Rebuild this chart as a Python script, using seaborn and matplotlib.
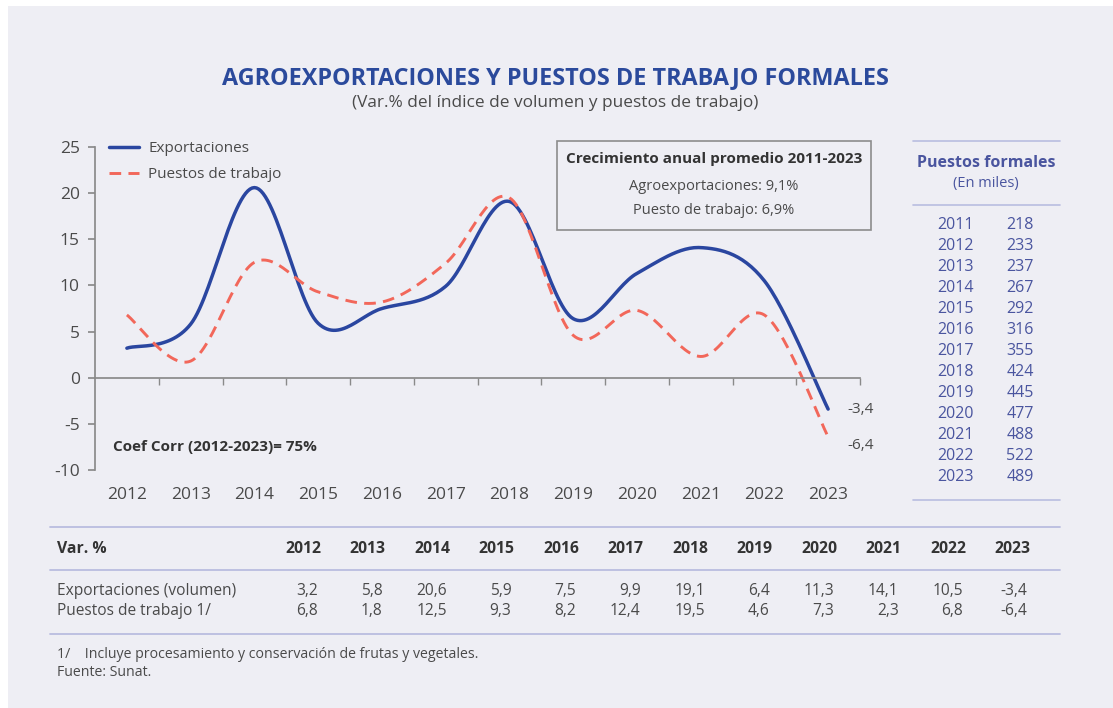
import numpy as np
import pandas as pd
import matplotlib
matplotlib.use("Agg")
import matplotlib.pyplot as plt
from matplotlib.patches import Rectangle
from matplotlib.lines import Line2D
import seaborn as sns

# data
years = ["2012", "2013", "2014", "2015", "2016", "2017", "2018", "2019", "2020", "2021", "2022", "2023"]
exportaciones = [3.2, 5.8, 20.6, 5.9, 7.5, 9.9, 19.1, 6.4, 11.3, 14.1, 10.5, -3.4]
puestos_trabajo = [6.8, 1.8, 12.5, 9.3, 8.2, 12.4, 19.5, 4.6, 7.3, 2.3, 6.8, -6.4]
exp_labels = ["3,2", "5,8", "20,6", "5,9", "7,5", "9,9", "19,1", "6,4", "11,3", "14,1", "10,5", "-3,4"]
pue_labels = ["6,8", "1,8", "12,5", "9,3", "8,2", "12,4", "19,5", "4,6", "7,3", "2,3", "6,8", "-6,4"]
yticks = [-10, -5, 0, 5, 10, 15, 20, 25]

formal_years = ["2011", "2012", "2013", "2014", "2015", "2016", "2017", "2018", "2019", "2020", "2021", "2022", "2023"]
formal_miles = [218, 233, 237, 267, 292, 316, 355, 424, 445, 477, 488, 522, 489]

BLUE = "#2b4a9c"
LINE_BLUE = "#2a46a0"
RED = "#f2675a"
GREY = "#4a4a4a"
SEP = "#b9bde0"
BG = "#eeeef4"
PANEL_BLUE = "#4a559f"


def smooth(y, n=30):
    # Excel-like smoothed line (Catmull-Rom through the data points)
    y = np.asarray(y, float)
    x = np.arange(len(y), dtype=float)
    px = np.concatenate([[x[0]], x, [x[-1]]])
    py = np.concatenate([[y[0]], y, [y[-1]]])
    xs, ys = [], []
    t = np.linspace(0, 1, n)
    for i in range(1, len(px) - 2):
        for p, out in ((px, xs), (py, ys)):
            p0, p1, p2, p3 = p[i - 1], p[i], p[i + 1], p[i + 2]
            c1 = p1 + (p2 - p0) / 6
            c2 = p2 - (p3 - p1) / 6
            seg = ((1 - t) ** 3 * p1 + 3 * (1 - t) ** 2 * t * c1
                   + 3 * (1 - t) * t ** 2 * c2 + t ** 3 * p2)
            out.extend(seg if i == 1 else seg[1:])
    return pd.DataFrame({"x": xs, "y": ys})


sns.set_theme(style="white")
plt.rcParams["font.family"] = ["Open Sans", "DejaVu Sans"]
plt.rcParams["axes.unicode_minus"] = False

fig = plt.figure(figsize=(11.13, 7.08), dpi=100)
fig.patch.set_facecolor("white")
fig.patches.append(Rectangle((8 / 1113, 0), 1, 1 - 6 / 708, transform=fig.transFigure,
                             facecolor=BG, edgecolor="none", zorder=-5))

fig.text(0.499, 1 - 78 / 708, "AGROEXPORTACIONES Y PUESTOS DE TRABAJO FORMALES", ha="center", va="center",
         fontsize=16.8, fontweight="bold", color=BLUE)
fig.text(0.499, 1 - 103 / 708, "(Var.% del índice de volumen y puestos de trabajo)", ha="center", va="center",
         fontsize=12.4, color=GREY)

ax = fig.add_axes([95 / 1113, 1 - 470 / 708, 765 / 1113, 323 / 708])
ax.set_facecolor("none")
ax.set_zorder(2)

sns.lineplot(data=smooth(exportaciones), x="x", y="y", ax=ax, sort=False,
             color=LINE_BLUE, linewidth=2.5)
sns.lineplot(data=smooth(puestos_trabajo), x="x", y="y", ax=ax, sort=False,
             color=RED, linewidth=2.1, linestyle=(0, (4, 2.5)))

ax.set_xlim(-0.5, len(years) - 0.5)
ax.set_ylim(-10, 25)
ax.set_yticks(yticks)
ax.set_xlabel("")
ax.set_ylabel("")
for s in ["top", "right"]:
    ax.spines[s].set_visible(False)
ax.spines["left"].set_color("#8a8a8a")
ax.spines["bottom"].set_color("#8a8a8a")
ax.spines["bottom"].set_position(("data", 0))
ax.tick_params(axis="y", length=5, color="#8a8a8a", labelsize=12.5, labelcolor=GREY, left=True, pad=6)
ax.set_xticks(range(len(years)))
ax.set_xticklabels([])
ax.tick_params(axis="x", which="major", length=0)
ax.set_xticks(np.arange(len(years)) + 0.5, minor=True)
ax.tick_params(axis="x", which="minor", length=5, color="#8a8a8a", direction="out", bottom=True)

sec = ax.secondary_xaxis("bottom")
sec.set_xticks(range(len(years)), labels=years)
sec.spines["bottom"].set_visible(False)
sec.tick_params(length=0, labelsize=12.5, labelcolor=GREY, pad=12)

handles = [Line2D([], [], color=LINE_BLUE, linewidth=2.5),
           Line2D([], [], color=RED, linewidth=2.1, linestyle=(0, (4, 2.5)))]
ax.legend(handles, ["Exportaciones", "Puestos de trabajo"], loc="upper left",
          bbox_to_anchor=(0.0, 1.06), frameon=False, fontsize=11, labelcolor=GREY,
          handlelength=2.0, handletextpad=0.6, labelspacing=0.72)

ax.annotate(exp_labels[-1], (len(years) - 1, exportaciones[-1]), xytext=(14, 0),
            textcoords="offset points", va="center", fontsize=11, color=GREY)
ax.annotate(pue_labels[-1], (len(years) - 1, puestos_trabajo[-1]), xytext=(14, -6),
            textcoords="offset points", va="center", fontsize=11, color=GREY)

ax.text(0.023, 0.07, "Coef Corr (2012-2023)= 75%", transform=ax.transAxes, fontsize=11,
        fontweight="bold", color="#333333", va="center")

# growth box
fig.patches.append(Rectangle((557 / 1113, 1 - 230 / 708), 314 / 1113, 89 / 708,
                             transform=fig.transFigure, facecolor="none",
                             edgecolor="#8c8c8c", linewidth=1.2, zorder=3))
fig.text(714 / 1113, 1 - 159 / 708, "Crecimiento anual promedio 2011-2023", ha="center", va="center",
         fontsize=11, fontweight="bold", color="#333333")
fig.text(714 / 1113, 1 - 186 / 708, "Agroexportaciones: 9,1%", ha="center", va="center",
         fontsize=10.5, color=GREY)
fig.text(714 / 1113, 1 - 210 / 708, "Puesto de trabajo: 6,9%", ha="center", va="center",
         fontsize=10.5, color=GREY)

# right panel
for yy in (141, 205, 500):
    fig.add_artist(Line2D([913 / 1113, 1060 / 1113], [1 - yy / 708] * 2, color=SEP, linewidth=1.2))
fig.text(986 / 1113, 1 - 163 / 708, "Puestos formales", ha="center", va="center",
         fontsize=11.5, fontweight="bold", color=PANEL_BLUE)
fig.text(986 / 1113, 1 - 184 / 708, "(En miles)", ha="center", va="center",
         fontsize=10.5, color=PANEL_BLUE)
for i, (yr, v) in enumerate(zip(formal_years, formal_miles)):
    yy = 1 - (225 + i * 21) / 708
    fig.text(955 / 1113, yy, yr, ha="center", va="center", fontsize=11.5, color=PANEL_BLUE)
    fig.text(1020 / 1113, yy, str(v), ha="center", va="center", fontsize=11.5, color=PANEL_BLUE)

# bottom table
for yy in (527, 570, 634):
    fig.add_artist(Line2D([50 / 1113, 1060 / 1113], [1 - yy / 708] * 2, color=SEP, linewidth=1.3))
fig.text(57 / 1113, 1 - 549 / 708, "Var. %", ha="left", va="center", fontsize=11.3,
         fontweight="bold", color="#333333")
fig.text(57 / 1113, 1 - 591 / 708, "Exportaciones (volumen)", ha="left", va="center",
         fontsize=11.2, color=GREY)
fig.text(57 / 1113, 1 - 611 / 708, "Puestos de trabajo 1/", ha="left", va="center",
         fontsize=11.2, color=GREY)
for i, yr in enumerate(years):
    cx = 303 + i * 64.5
    fig.text(cx / 1113, 1 - 549 / 708, yr, ha="center", va="center", fontsize=11.3,
             fontweight="bold", color="#333333")
    fig.text((cx + 15) / 1113, 1 - 591 / 708, exp_labels[i], ha="right", va="center",
             fontsize=11.2, color=GREY)
    fig.text((cx + 15) / 1113, 1 - 611 / 708, pue_labels[i], ha="right", va="center",
             fontsize=11.2, color=GREY)
fig.text(57 / 1113, 1 - 654 / 708, "1/    Incluye procesamiento y conservación de frutas y vegetales.",
         ha="left", va="center", fontsize=10.2, color=GREY)
fig.text(57 / 1113, 1 - 673 / 708, "Fuente: Sunat.", ha="left", va="center",
         fontsize=10.2, color=GREY)

fig.savefig("out.png", dpi=100, facecolor=fig.get_facecolor())
